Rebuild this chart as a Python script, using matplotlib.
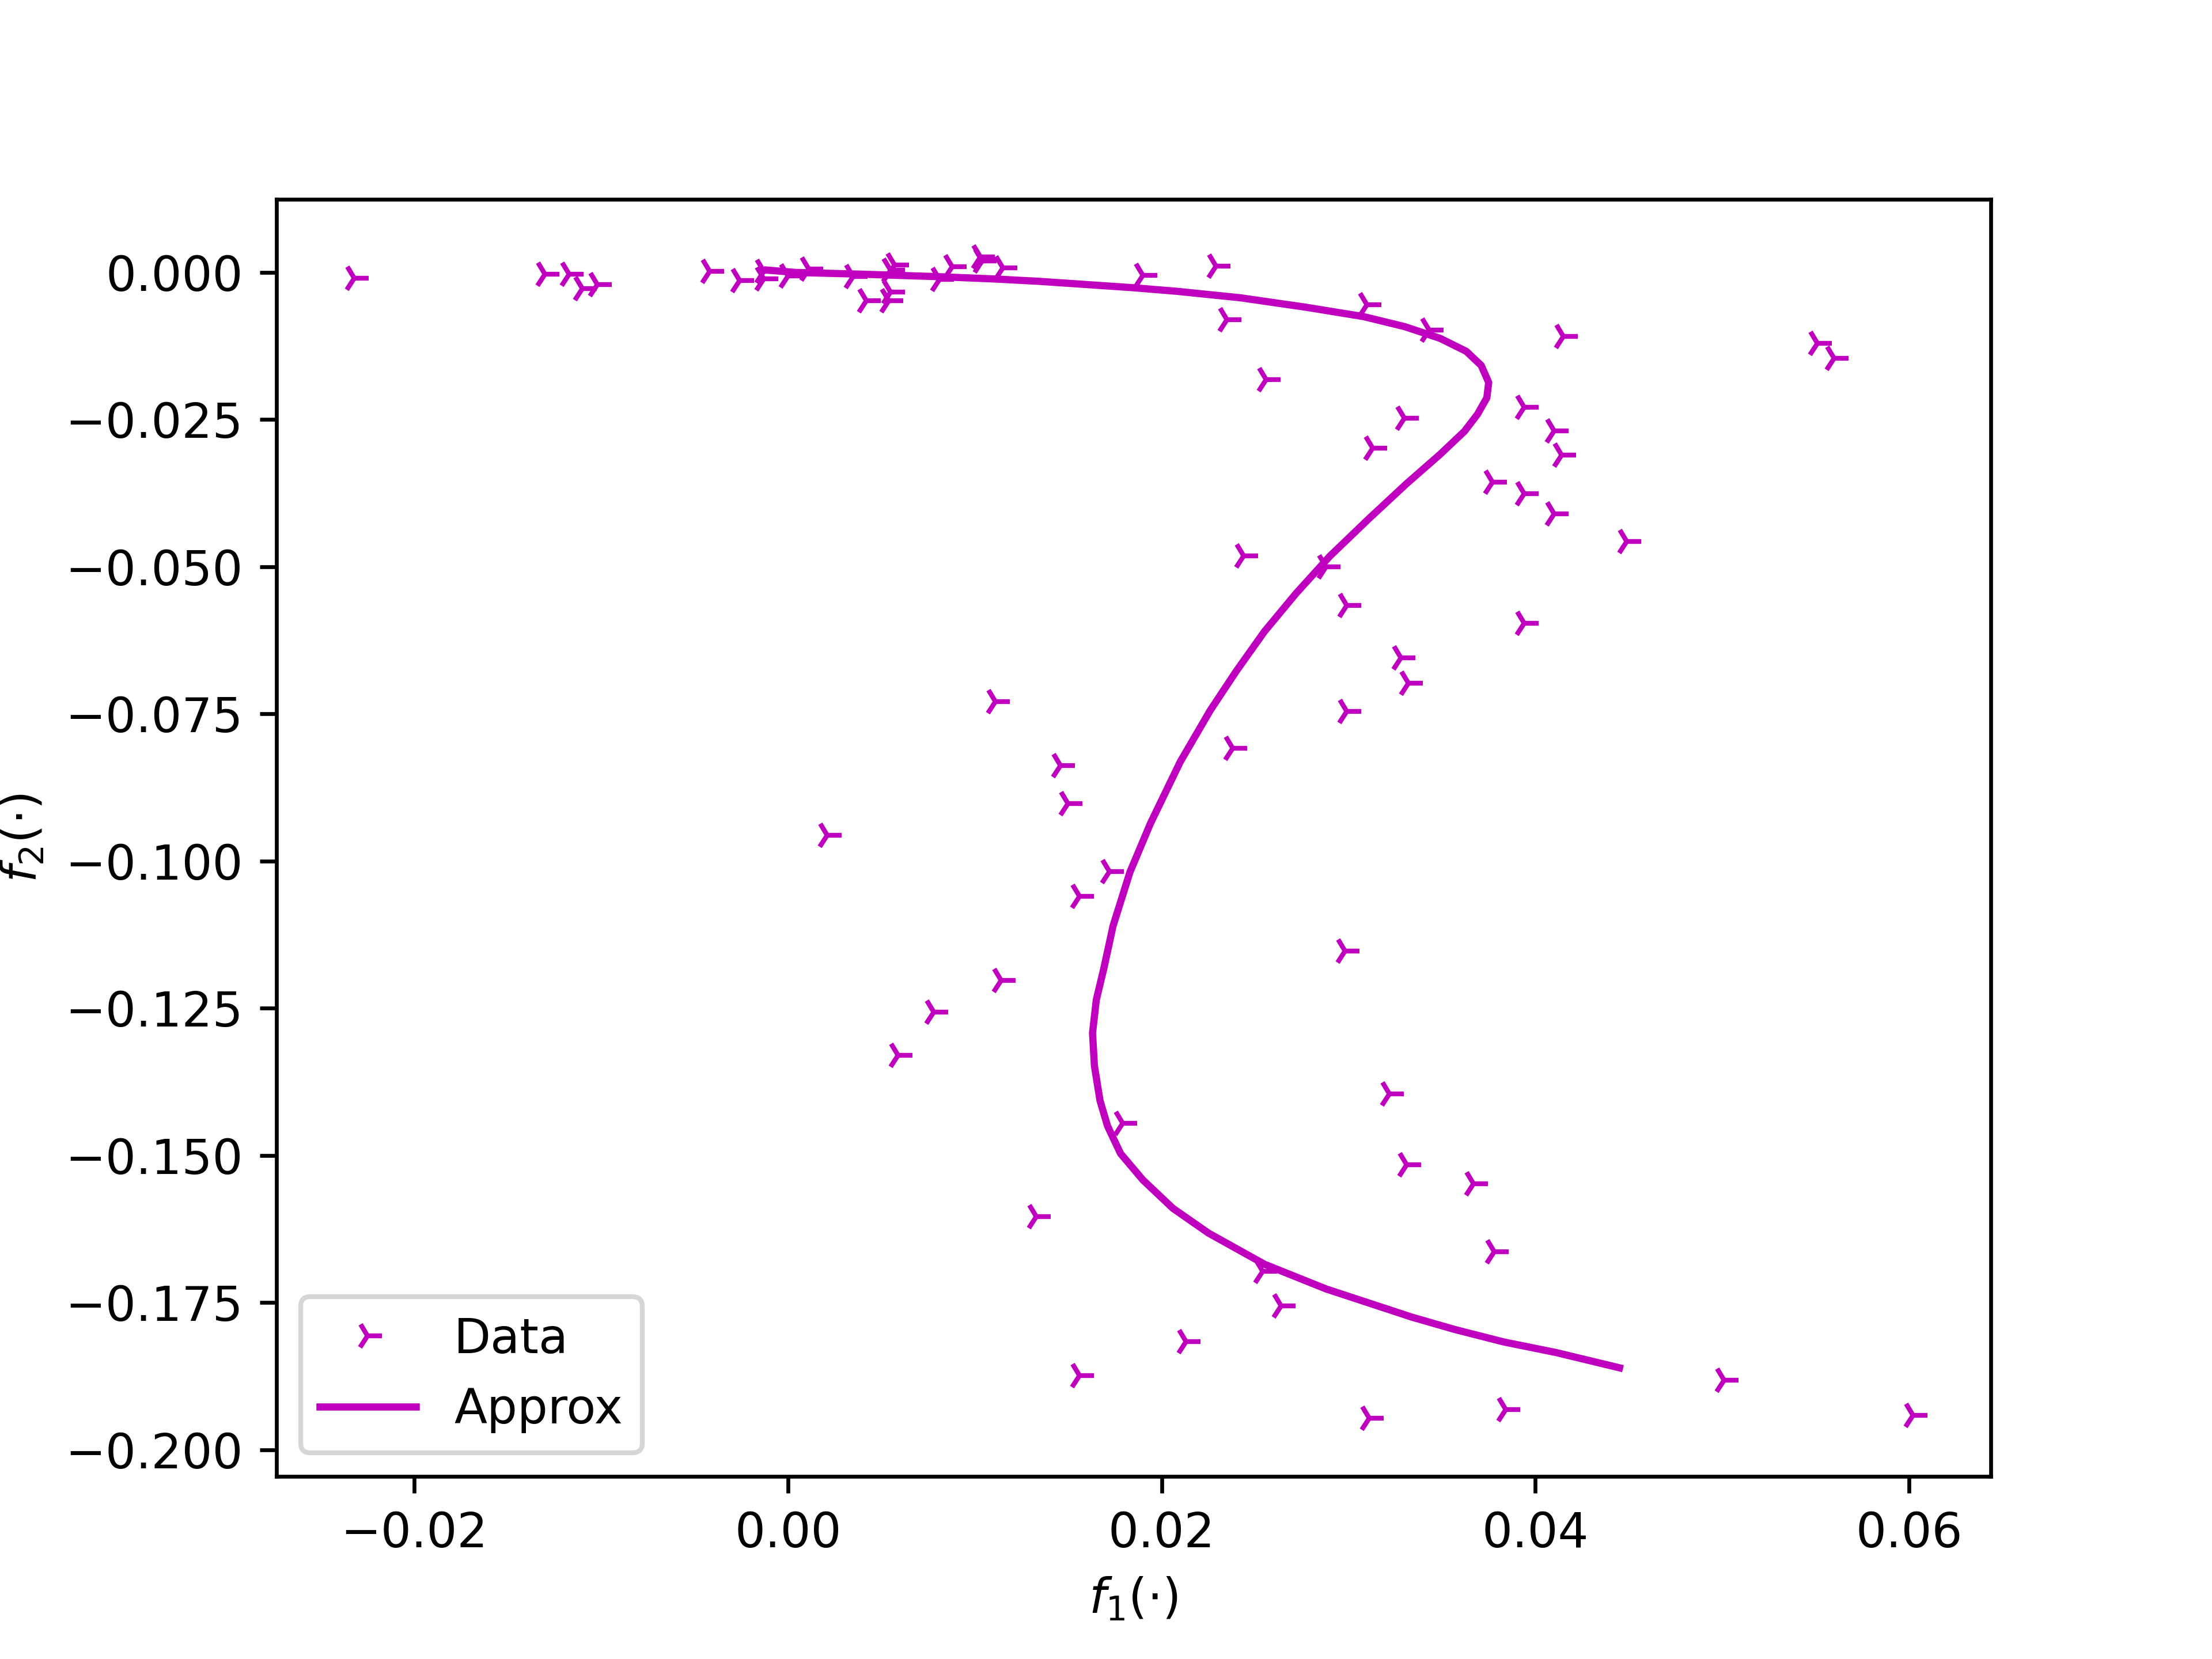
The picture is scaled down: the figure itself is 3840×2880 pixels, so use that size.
import numpy as np
import matplotlib.pyplot as plt

# scattered samples (f1, f2)
data_f1 = [-0.0232, -0.0130, -0.0117, -0.0102, -0.0110, -0.0042, -0.0026, -0.0013,
           -0.0013, 0.0000, 0.0011, 0.0035, 0.0057, 0.0055, 0.0042, 0.0054,
           0.0055, 0.0081, 0.0088, 0.0103, 0.0104, 0.0115,
           0.0190, 0.0229, 0.0235, 0.0310, 0.0343, 0.0415, 0.0256, 0.0394,
           0.0330, 0.0410, 0.0313, 0.0414, 0.0377, 0.0394, 0.0410, 0.0449,
           0.0244, 0.0288, 0.0299, 0.0394, 0.0551, 0.0560,
           0.0328, 0.0332, 0.0299, 0.0111, 0.0238, 0.0146, 0.0150, 0.0021,
           0.0172, 0.0156, 0.0298, 0.0114,
           0.0078, 0.0059, 0.0322, 0.0179, 0.0331, 0.0367, 0.0133, 0.0378,
           0.0254, 0.0264, 0.0213, 0.0156, 0.0311, 0.0384, 0.0501, 0.0602]
data_f2 = [-0.0010, -0.0003, -0.0003, -0.0021, -0.0027, 0.0002, -0.0014, 0.0002,
           -0.0011, -0.0006, 0.0006, -0.0007, 0.0013, 0.0004, -0.0048, -0.0048,
           -0.0033, -0.0012, 0.0010, 0.0026, 0.0020, 0.0008,
           -0.0005, 0.0011, -0.0080, -0.0055, -0.0098, -0.0109, -0.0182, -0.0229,
           -0.0248, -0.0269, -0.0299, -0.0310, -0.0356, -0.0376, -0.0410, -0.0457,
           -0.0482, -0.0500, -0.0566, -0.0596, -0.0120, -0.0146,
           -0.0655, -0.0698, -0.0746, -0.0729, -0.0808, -0.0838, -0.0902, -0.0956,
           -0.1018, -0.1060, -0.1153, -0.1203,
           -0.1257, -0.1330, -0.1396, -0.1446, -0.1516, -0.1548, -0.1604, -0.1664,
           -0.1697, -0.1756, -0.1816, -0.1874, -0.1947, -0.1932, -0.1882, -0.1942]

# fitted curve
approx_f1 = [-0.0011, 0.0004, 0.0040, 0.0079, 0.0110, 0.0134, 0.0185, 0.0208,
             0.0242, 0.0277, 0.0308, 0.0330, 0.0349, 0.0363, 0.0371, 0.0375,
             0.0374, 0.0369, 0.0362, 0.0349, 0.0331, 0.0311, 0.0290, 0.0272,
             0.0255, 0.0240, 0.0226, 0.0210, 0.0194, 0.0183, 0.0174, 0.0169,
             0.0165, 0.0163, 0.0164, 0.0167, 0.0171, 0.0178, 0.0190, 0.0206,
             0.0225, 0.0255, 0.0288, 0.0334, 0.0357, 0.0383, 0.0411, 0.0445]
approx_f2 = [0.0004, 0.0000, -0.0003, -0.0007, -0.0011, -0.0015, -0.0026, -0.0032,
             -0.0043, -0.0059, -0.0075, -0.0092, -0.0112, -0.0134, -0.0158, -0.0187,
             -0.0213, -0.0241, -0.0270, -0.0309, -0.0359, -0.0418, -0.0482, -0.0545,
             -0.0610, -0.0677, -0.0744, -0.0831, -0.0936, -0.1019, -0.1110, -0.1183,
             -0.1236, -0.1292, -0.1348, -0.1407, -0.1450, -0.1497, -0.1542, -0.1590,
             -0.1632, -0.1685, -0.1727, -0.1775, -0.1796, -0.1817, -0.1835, -0.1861]

fig = plt.figure(figsize=(6.4, 4.8), dpi=600)
ax = fig.add_subplot(111)

ax.plot(data_f1, data_f2, 'm4', label='Data')
ax.plot(approx_f1, approx_f2, 'm-', label='Approx')

ax.set_xlabel(r'$f_1(\cdot)$')
ax.set_ylabel(r'$f_2(\cdot)$')
ax.legend(loc='lower left')

fig.savefig('out.png', dpi=600)
